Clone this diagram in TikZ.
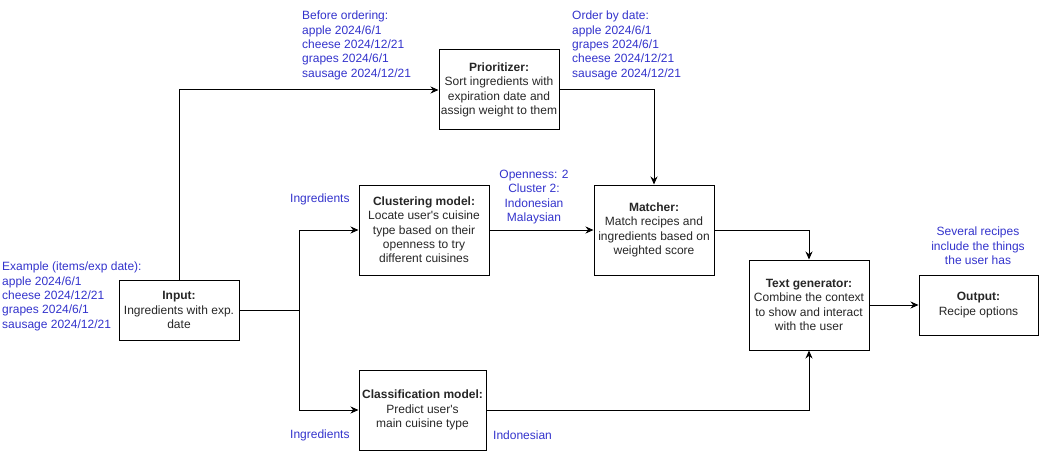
\documentclass[tikz,border=0pt]{standalone}
\usepackage{fontspec}
\setmainfont{Liberation Sans}[Ligatures=TeXOff]
\usetikzlibrary{arrows.meta}
\definecolor{lblblue}{RGB}{51,51,204}
\tikzset{
  box/.style={draw, line width=1pt, rectangle, inner sep=0pt, align=center,
    font=\fontsize{12}{14.3}\selectfont, text=black!85},
  note/.style={text=lblblue, inner sep=0pt, font=\fontsize{12}{14.3}\selectfont},
  wire/.style={line width=1pt},
  conn/.style={line width=1pt, -{Stealth[length=8pt,width=7pt]}}
}
\begin{document}
\begin{tikzpicture}[x=1pt,y=-1pt]
\useasboundingbox (0,0) rectangle (1040,465);
% boxes
\node[box, minimum width=120pt, minimum height=60pt] (in) at (179,310) {\textbf{Input:}\\Ingredients with exp.\\date};
\node[box, minimum width=120pt, minimum height=80pt] (pr) at (499,90) {\textbf{Prioritizer:}\\Sort ingredients with\\expiration date and\\assign weight to them};
\node[box, minimum width=130pt, minimum height=90pt] (cl) at (424,230) {\textbf{Clustering model:}\\Locate user's cuisine\\type based on their\\openness to try\\different cuisines};
\node[box, minimum width=120pt, minimum height=90pt] (ma) at (654,230) {\textbf{Matcher:}\\Match recipes and\\ingredients based on\\weighted score};
\node[box, minimum width=120pt, minimum height=90pt] (tg) at (809,305) {\textbf{Text generator:}\\Combine the context\\to show and interact\\with the user};
\node[box, minimum width=119pt, minimum height=60pt] (out) at (978.5,305) {\textbf{Output:}\\Recipe options};
\node[box, minimum width=127pt, minimum height=80pt] (cls) at (422.5,410) {\textbf{Classification model:}\\Predict user's\\main cuisine type};
% connectors
\coordinate (split) at (299,310);
\draw[conn] (in.north) |- (pr.west);
\draw[wire] (in.east) -- (split);
\draw[conn] (split) |- (cl.west);
\draw[conn] (split) |- (cls.west);
\draw[conn] (pr.east) -| (ma.north);
\draw[conn] (cl.east) -- (ma.west);
\draw[conn] (ma.east) -| (tg.north);
\draw[conn] (cls.east) -| (tg.south);
\draw[conn] (tg.east) -- (out.west);
% labels
\node[note, anchor=north west, align=left] (ex) at (2,262) {Example (items/exp date):\\apple 2024/6/1\\cheese 2024/12/21\\grapes 2024/6/1\\sausage 2024/12/21};
\node[note, anchor=north west, align=left] (bo) at (302,11) {Before ordering:\\apple 2024/6/1\\cheese 2024/12/21\\grapes 2024/6/1\\sausage 2024/12/21};
\node[note, anchor=north west, align=left] (ob) at (572,11) {Order by date:\\apple 2024/6/1\\grapes 2024/6/1\\cheese 2024/12/21\\sausage 2024/12/21};
\node[note, anchor=west] (ing1) at (290,199) {Ingredients};
\node[note, align=center] (op) at (534,197) {Openness: 2\\Cluster 2:\\Indonesian\\Malaysian};
\node[note, align=center] (sev) at (978,246) {Several recipes\\include the things\\the user has};
\node[note, anchor=west] (ing2) at (290,435) {Ingredients};
\node[note, anchor=west] (indo) at (493,435) {Indonesian};
\end{tikzpicture}
\end{document}
